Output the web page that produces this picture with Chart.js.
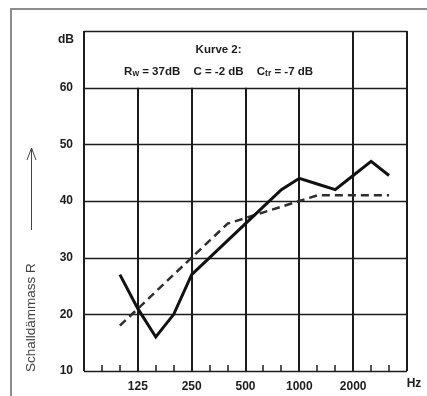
<!DOCTYPE html>
<html lang="de">
<head>
    <meta charset="UTF-8">
    <title>Kurve 2</title>
    <style>
        body { margin: 0; background: #fff; }
        #wrap { width: 427px; height: 396px; position: relative; }
    </style>
</head>
<body>
    <div id="wrap"><canvas id="chart"></canvas></div>
    <script src="https://cdn.jsdelivr.net/npm/chart.js@4.4.1/dist/chart.umd.min.js"></script>
    <script>
        // third-octave bands, index 0 = 63 Hz ... 18 = 4000 Hz
        const bands = ['63', '80', '100', '125', '160', '200', '250', '315', '400', '500', '630', '800', '1000', '1250', '1600', '2000', '2500', '3150', '4000']
        const measFreqs = ['100', '125', '160', '200', '250', '315', '400', '500', '630', '800', '1000', '1250', '1600', '2000', '2500', '3150']
        const measured = [27, 21, 16, 20, 27, 30, 33, 36, 39, 42, 44, 43, 42, 44.5, 47, 44.5]
        const reference = [18, 21, 24, 27, 30, 33, 36, 37, 38, 39, 40, 41, 41, 41, 41, 41]
        const xTickLabels = ['125', '250', '500', '1000', '2000']
        const yTicks = [10, 20, 30, 40, 50, 60]

        const toPoints = vals => vals.map((v, i) => ({ x: bands.indexOf(measFreqs[i]), y: v }))
        const ink = '#1c1c1c'
        const font = 'Liberation Sans, Arial, sans-serif'

        const framePlugin = {
            id: 'frame',
            beforeDatasetsDraw(chart) {
                const { ctx, chartArea: a, scales: { x, y } } = chart
                ctx.save()
                // outer border of the figure
                ctx.strokeStyle = '#8c8c8c'
                ctx.lineWidth = 2
                ctx.beginPath()
                ctx.moveTo(11, 396); ctx.lineTo(11, 9); ctx.lineTo(427, 9)
                ctx.stroke()

                ctx.strokeStyle = ink
                // horizontal grid
                ctx.lineWidth = 1.5
                yTicks.concat([70]).forEach(v => {
                    const py = Math.round(y.getPixelForValue(v)) + 0.5
                    ctx.beginPath(); ctx.moveTo(a.left, py); ctx.lineTo(a.right, py); ctx.stroke()
                })
                // vertical grid: octave lines, middle ones stop at 60 dB (text box above)
                ctx.lineWidth = 2
                for (let i = 0; i <= 18; i += 3) {
                    const px = Math.round(x.getPixelForValue(i))
                    const full = i === 0 || i >= 15
                    const top = full ? a.top : y.getPixelForValue(60)
                    ctx.beginPath(); ctx.moveTo(px, top); ctx.lineTo(px, a.bottom); ctx.stroke()
                }
                // third-octave ticks on the bottom axis
                ctx.lineWidth = 1.5
                for (let i = 1; i < 18; i++) {
                    if (i % 3 === 0) continue
                    const px = Math.round(x.getPixelForValue(i))
                    ctx.beginPath(); ctx.moveTo(px, a.bottom); ctx.lineTo(px, a.bottom - 6); ctx.stroke()
                }
                ctx.restore()
            },
            afterDraw(chart) {
                const { ctx, chartArea: a, scales: { x, y } } = chart
                ctx.save()
                ctx.fillStyle = ink
                ctx.textBaseline = 'middle'

                // dB and Hz unit labels
                ctx.font = 'bold 12px ' + font
                ctx.textAlign = 'right'
                ctx.fillText('dB', a.left - 10, a.top + 9)
                ctx.textAlign = 'center'
                ctx.fillText('Hz', a.right + 7, a.bottom + 13)

                // text in the box
                const cx = (x.getPixelForValue(0) + x.getPixelForValue(15)) / 2
                ctx.font = 'bold 11.5px ' + font
                ctx.fillText('Kurve 2:', cx, 50)

                const big = 'bold 11.5px ' + font, small = 'bold 8.5px ' + font
                const parts = [
                    ['R', big, 0], ['w', small, 2], [' = 37dB', big, 0], ['gap'],
                    ['C = -2 dB', big, 0], ['gap'],
                    ['C', big, 0], ['tr', small, 2], [' = -7 dB', big, 0]
                ]
                let textW = 0
                parts.forEach(p => {
                    if (p[0] === 'gap') return
                    ctx.font = p[1]; textW += ctx.measureText(p[0]).width
                })
                const gap = Math.max(8, (189 - textW) / 2)
                let px = cx - (textW + 2 * gap) / 2
                ctx.textAlign = 'left'
                parts.forEach(p => {
                    if (p[0] === 'gap') { px += gap; return }
                    ctx.font = p[1]
                    ctx.fillText(p[0], px, 72 + p[2])
                    px += ctx.measureText(p[0]).width
                })

                // y axis title with arrow
                ctx.fillStyle = '#444'
                ctx.font = '13.5px ' + font
                ctx.translate(31, a.bottom + 1)
                ctx.rotate(-Math.PI / 2)
                ctx.textAlign = 'left'
                ctx.fillText('Schalldämmass R', 0, 0)
                ctx.setTransform(1, 0, 0, 1, 0, 0)
                ctx.strokeStyle = '#444'
                ctx.lineWidth = 1
                ctx.beginPath()
                ctx.moveTo(31.5, 230); ctx.lineTo(31.5, 149)
                ctx.moveTo(27, 160); ctx.lineTo(31.5, 148); ctx.lineTo(36, 160)
                ctx.stroke()
                ctx.restore()
            }
        }

        const config = {
            type: 'line',
            data: {
                datasets: [
                    {
                        label: 'Kurve 2',
                        data: toPoints(measured),
                        borderColor: '#111',
                        borderWidth: 3,
                        pointRadius: 0,
                        tension: 0
                    },
                    {
                        label: 'Bezugskurve',
                        data: toPoints(reference),
                        borderColor: '#2e2e2e',
                        borderWidth: 2.5,
                        borderDash: [8, 5],
                        pointRadius: 0,
                        tension: 0
                    }
                ]
            },
            options: {
                responsive: true,
                maintainAspectRatio: false,
                animation: false,
                layout: { padding: { top: 31, right: 20, left: 0, bottom: 0 } },
                plugins: { legend: { display: false }, tooltip: { enabled: false } },
                scales: {
                    x: {
                        type: 'linear',
                        min: 0,
                        max: 18,
                        grid: { display: false },
                        border: { display: false },
                        afterFit: s => { s.height = 25 },
                        afterBuildTicks: s => { s.ticks = [3, 6, 9, 12, 15].map(v => ({ value: v })) },
                        ticks: {
                            autoSkip: false,
                            maxRotation: 0,
                            padding: 0,
                            color: ink,
                            font: { family: font, size: 12, weight: 'bold' },
                            callback: v => xTickLabels[v / 3 - 1]
                        }
                    },
                    y: {
                        min: 10,
                        max: 70,
                        grid: { display: false, drawTicks: false },
                        border: { display: false },
                        afterFit: s => { s.width = 84 },
                        afterBuildTicks: s => { s.ticks = yTicks.map(v => ({ value: v })) },
                        ticks: {
                            padding: 11,
                            color: ink,
                            font: { family: font, size: 12, weight: 'bold' }
                        }
                    }
                }
            },
            plugins: [framePlugin]
        }

        new Chart(document.getElementById('chart'), config)
    </script>
</body>
</html>
